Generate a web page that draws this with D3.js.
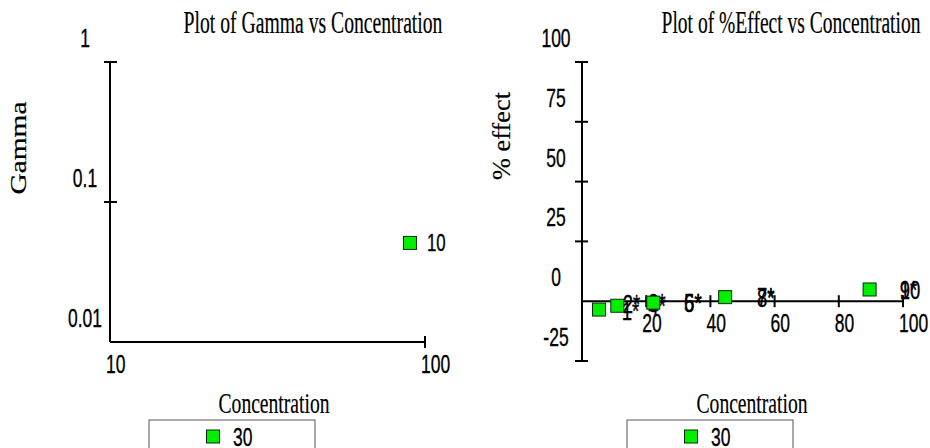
<!DOCTYPE html>
<html>
<head>
<meta charset="utf-8">
<script src="https://cdn.jsdelivr.net/npm/d3@7"></script>
<style>
  html, body { margin: 0; padding: 0; background: #fff; }
  svg { display: block; }
</style>
</head>
<body>
<svg id="chart" width="930" height="448"></svg>
<script>
// ---------- data ----------
const gammaConc = [89.6];
const gammaValues = [0.051];
const gammaLabels = ["10"];

const gammaYTicks = [1, 0.1];
const gammaYTickLabels = [1, 0.1, 0.01];
const gammaXTicks = [100];
const gammaXTickLabels = [10, 100];

const effectConc = [5.3, 11.0, 22.2, 44.6, 89.6];
const effectValues = [-3.5, -1.9, -0.6, 1.7, 4.9];

const effectLabelText = ["1*", "2*", "3*", "4*", "5*", "6*", "7*", "8*", "9*", "10"];
const effectLabelConc = [12.4, 12.7, 20.6, 20.6, 31.8, 31.8, 54.5, 54.5, 99.0, 99.0];
const effectLabelValues = [-3.8, -1.0, -0.4, -1.6, -0.4, -0.4, 1.9, 1.7, 5.0, 5.0];

const effectYTicks = [100, 75, 50, 25, -25];
const effectYTickLabels = [100, 75, 50, 25, 0, -25];
const effectXTicks = [20, 40, 60, 80, 100];
const effectXTickLabels = [20, 40, 60, 80, 100];

const legendLabels = ["30"];

// ---------- helpers ----------
const svg = d3.select("#chart");
const SANS = "'Liberation Sans', Arial, sans-serif";
const SERIF = "'Liberation Serif', 'Times New Roman', serif";
const NUM_SIZE = 25, NUM_SX = 0.7;

function numText(g, x, y, t, anchor, size) {
  g.append("text")
    .attr("transform", `translate(${x},${y}) scale(${NUM_SX},1)`)
    .attr("text-anchor", anchor)
    .attr("font-family", SANS)
    .attr("font-size", size || NUM_SIZE)
    .attr("fill", "#000")
    .attr("stroke", "#000").attr("stroke-width", 0.35)
    .text(t);
}
function serifText(g, x, y, t, size, len, rotate) {
  const el = g.append("text")
    .attr("text-anchor", "middle")
    .attr("font-family", SERIF)
    .attr("font-size", size)
    .attr("fill", "#000")
    .attr("stroke", "#000").attr("stroke-width", 0.2)
    .text(t);
  const natural = el.node().getComputedTextLength() || len;
  const s = len / natural;
  el.attr("transform", rotate
    ? `translate(${x},${y}) rotate(-90) scale(${s},1)`
    : `translate(${x},${y}) scale(${s},1)`);
}
function square(g, cx, cy) {
  g.append("rect")
    .attr("x", cx - 6.5).attr("y", cy - 6.5)
    .attr("width", 13).attr("height", 13)
    .attr("fill", "#00ee00")
    .attr("stroke", "#0a2a0a").attr("stroke-width", 1);
}
function legend(g, x0, x1, y0) {
  g.append("rect")
    .attr("x", x0).attr("y", y0)
    .attr("width", x1 - x0).attr("height", 40)
    .attr("fill", "none").attr("stroke", "#555").attr("stroke-width", 1);
  const cx = (x0 + x1) / 2;
  legendLabels.forEach(l => {
    square(g, cx - 19, y0 + 16.5);
    numText(g, cx + 1, y0 + 25.5, l, "start", 25);
  });
}
const axisStyle = sel => sel.attr("stroke", "#000").attr("stroke-width", 2).attr("fill", "none");

// ---------- left: Gamma vs Concentration (log-log) ----------
{
  const g = svg.append("g");
  const x = d3.scaleLog().domain([10, 100]).range([110, 425]);
  const y = d3.scaleLog().domain([0.01, 1]).range([342, 62]);

  g.append("line").attr("x1", x(10)).attr("x2", x(10)).attr("y1", y(1)).attr("y2", y(0.01)).call(axisStyle);
  g.append("line").attr("x1", x(10)).attr("x2", x(100)).attr("y1", y(0.01)).attr("y2", y(0.01)).call(axisStyle);
  gammaYTicks.forEach(v => g.append("line")
    .attr("x1", x(10) - 6).attr("x2", x(10) + 7).attr("y1", y(v)).attr("y2", y(v)).call(axisStyle));
  gammaXTicks.forEach(v => g.append("line")
    .attr("x1", x(v)).attr("x2", x(v)).attr("y1", y(0.01) - 6).attr("y2", y(0.01) + 6).call(axisStyle));
  gammaYTickLabels.forEach(v => numText(g, x(10) - 25, y(v) - 24 + 9, String(v), "middle"));
  gammaXTickLabels.forEach(v => numText(g, x(v) - 4, y(0.01) + 30.5, String(v), "start"));

  serifText(g, 313, 32.7, "Plot of Gamma vs Concentration", 31, 259);
  serifText(g, 26, 148, "Gamma", 24, 93, true);
  serifText(g, 274, 412.7, "Concentration", 29, 111);

  gammaConc.forEach((c, i) => {
    square(g, x(c), y(gammaValues[i]));
    numText(g, x(c) + 17, y(gammaValues[i]) + 8.5, gammaLabels[i], "start", 24);
  });

  legend(g, 149, 315, 420);
}

// ---------- right: %Effect vs Concentration ----------
{
  const g = svg.append("g");
  const x = d3.scaleLinear().domain([0, 100]).range([582, 903]);
  const y = d3.scaleLinear().domain([-25, 100]).range([361, 62]);

  g.append("line").attr("x1", x(0)).attr("x2", x(0)).attr("y1", y(100)).attr("y2", y(-25)).call(axisStyle);
  g.append("line").attr("x1", x(0)).attr("x2", x(100)).attr("y1", y(0)).attr("y2", y(0)).call(axisStyle);
  effectYTicks.forEach(v => g.append("line")
    .attr("x1", x(0) - 7).attr("x2", x(0) + 6).attr("y1", y(v)).attr("y2", y(v)).call(axisStyle));
  effectXTicks.forEach(v => g.append("line")
    .attr("x1", x(v)).attr("x2", x(v)).attr("y1", y(0) - 6).attr("y2", y(0) + 6).call(axisStyle));

  effectYTickLabels.forEach(v => numText(g, x(0) - 26, y(v) - 24 + 9, String(v), "middle"));
  effectXTickLabels.forEach(v => numText(g, x(v) - 4, y(0) + 30.5, String(v), "start"));

  serifText(g, 791, 32.7, "Plot of %Effect vs Concentration", 31, 259);
  serifText(g, 510, 136, "% effect", 25, 88, true);
  serifText(g, 752, 412.7, "Concentration", 29, 111);

  effectLabelText.forEach((t, i) =>
    numText(g, x(effectLabelConc[i]), y(effectLabelValues[i]) + 9.5, t, "start", 26.5));
  effectConc.forEach((c, i) => square(g, x(c), y(effectValues[i])));

  legend(g, 627, 793, 420);
}
</script>
</body>
</html>
